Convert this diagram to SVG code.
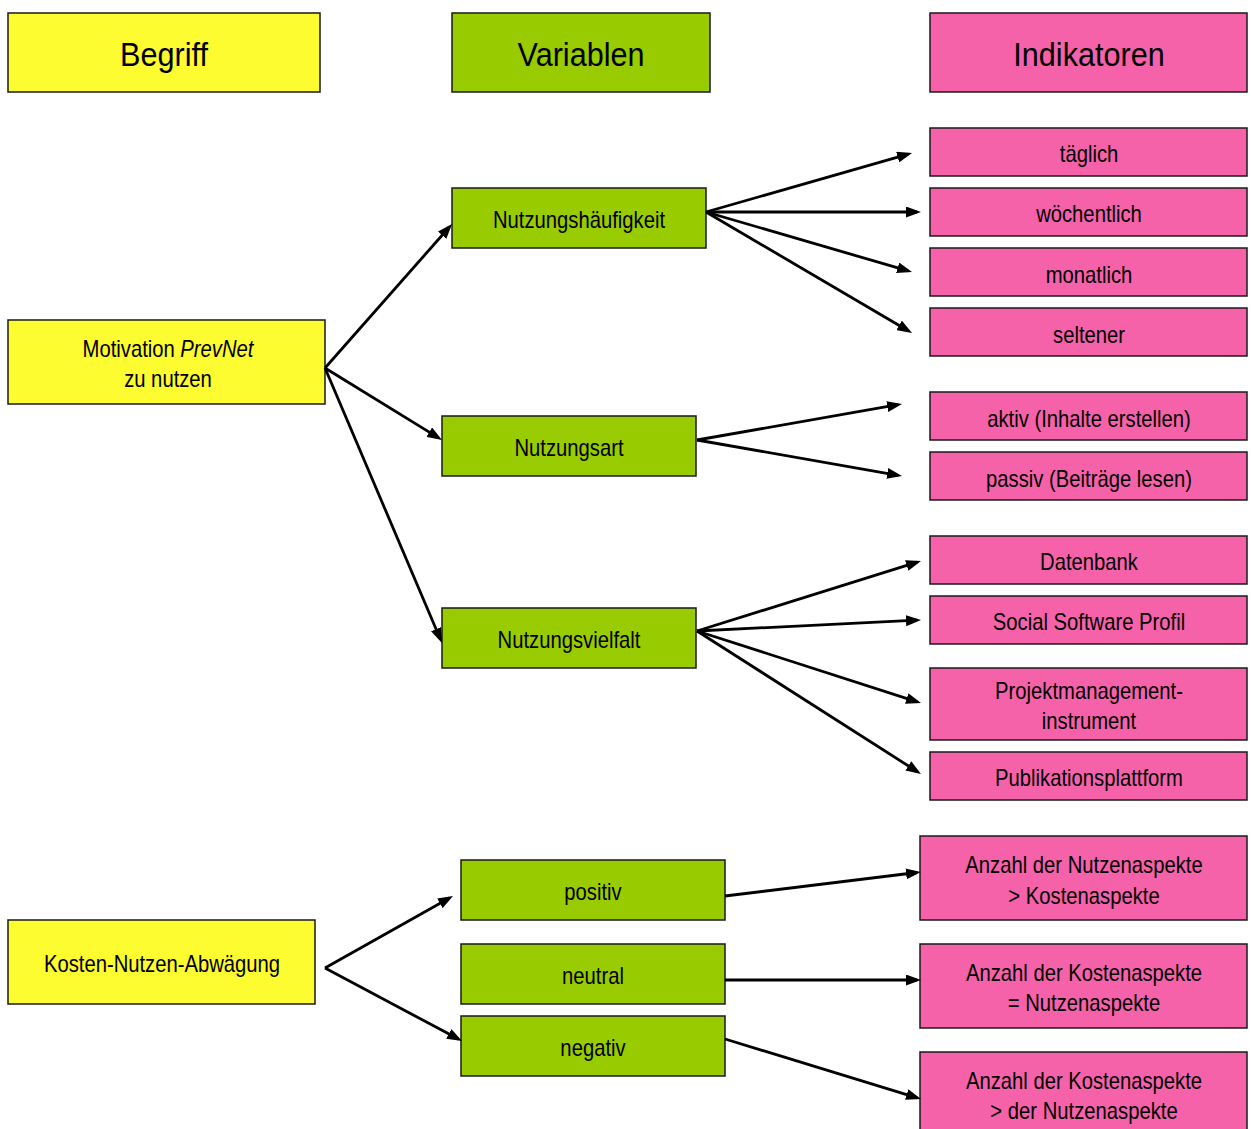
<svg xmlns="http://www.w3.org/2000/svg" width="1251" height="1129" viewBox="0 0 1251 1129">
<style>
  .y { fill: #FCFC30; stroke: #1a1a1a; stroke-width: 1.5; }
  .g { fill: #99CC00; stroke: #1a1a1a; stroke-width: 1.5; }
  .p { fill: #F562AA; stroke: #1a1a1a; stroke-width: 1.5; }
  text { font-family: "Liberation Sans", Arial, sans-serif; font-size: 23px; fill: #000; text-anchor: middle; }
  text.h { font-size: 34px; }
  .c path { fill: none; stroke: #000; stroke-width: 2.8; marker-end: url(#ah); }
</style>
<defs>
  <marker id="ah" markerUnits="userSpaceOnUse" markerWidth="15" markerHeight="11" viewBox="0 0 15 11" refX="11" refY="5.5" orient="auto">
    <path d="M0,0 L15,5.5 L0,11 z" fill="#000"/>
  </marker>
</defs>
<rect width="1251" height="1129" fill="#fff"/>

<g id="hdr-begriff"><rect class="y" x="8" y="13" width="312" height="79"/><text class="h" transform="translate(164,66) scale(0.9,1)">Begriff</text></g>
<g id="hdr-variablen"><rect class="g" x="452" y="13" width="258" height="79"/><text class="h" transform="translate(581,66) scale(0.9,1)">Variablen</text></g>
<g id="hdr-indikatoren"><rect class="p" x="930" y="13" width="317" height="79"/><text class="h" transform="translate(1089,66) scale(0.9,1)">Indikatoren</text></g>

<g id="motivation"><rect class="y" x="8" y="320" width="317" height="84"/>
  <text transform="translate(168,357) scale(0.88,1)">Motivation <tspan font-style="italic">PrevNet</tspan></text>
  <text transform="translate(168,387) scale(0.88,1)">zu nutzen</text></g>
<g id="kosten-nutzen"><rect class="y" x="8" y="920" width="307" height="84"/><text transform="translate(162,972) scale(0.88,1)">Kosten-Nutzen-Abwägung</text></g>

<g id="nutzungshaeufigkeit"><rect class="g" x="452" y="188" width="254" height="60"/><text transform="translate(579,228) scale(0.88,1)">Nutzungshäufigkeit</text></g>
<g id="nutzungsart"><rect class="g" x="442" y="416" width="254" height="60"/><text transform="translate(569,456) scale(0.88,1)">Nutzungsart</text></g>
<g id="nutzungsvielfalt"><rect class="g" x="442" y="608" width="254" height="60"/><text transform="translate(569,648) scale(0.88,1)">Nutzungsvielfalt</text></g>
<g id="positiv"><rect class="g" x="461" y="860" width="264" height="60"/><text transform="translate(593,900) scale(0.88,1)">positiv</text></g>
<g id="neutral"><rect class="g" x="461" y="944" width="264" height="60"/><text transform="translate(593,984) scale(0.88,1)">neutral</text></g>
<g id="negativ"><rect class="g" x="461" y="1016" width="264" height="60"/><text transform="translate(593,1056) scale(0.88,1)">negativ</text></g>

<g id="taeglich"><rect class="p" x="930" y="128" width="317" height="48"/><text transform="translate(1089,162) scale(0.88,1)">täglich</text></g>
<g id="woechentlich"><rect class="p" x="930" y="188" width="317" height="48"/><text transform="translate(1089,222) scale(0.88,1)">wöchentlich</text></g>
<g id="monatlich"><rect class="p" x="930" y="248" width="317" height="48"/><text transform="translate(1089,283) scale(0.88,1)">monatlich</text></g>
<g id="seltener"><rect class="p" x="930" y="308" width="317" height="48"/><text transform="translate(1089,343) scale(0.88,1)">seltener</text></g>
<g id="aktiv"><rect class="p" x="930" y="392" width="317" height="48"/><text transform="translate(1089,427) scale(0.88,1)">aktiv (Inhalte erstellen)</text></g>
<g id="passiv"><rect class="p" x="930" y="452" width="317" height="48"/><text transform="translate(1089,487) scale(0.88,1)">passiv (Beiträge lesen)</text></g>
<g id="datenbank"><rect class="p" x="930" y="536" width="317" height="48"/><text transform="translate(1089,570) scale(0.88,1)">Datenbank</text></g>
<g id="social-software"><rect class="p" x="930" y="596" width="317" height="48"/><text transform="translate(1089,630) scale(0.88,1)">Social Software Profil</text></g>
<g id="projektmanagement"><rect class="p" x="930" y="668" width="317" height="72"/>
  <text transform="translate(1089,699) scale(0.88,1)">Projektmanagement-</text>
  <text transform="translate(1089,729) scale(0.88,1)">instrument</text></g>
<g id="publikation"><rect class="p" x="930" y="752" width="317" height="48"/><text transform="translate(1089,786) scale(0.88,1)">Publikationsplattform</text></g>
<g id="anzahl-pos"><rect class="p" x="920" y="836" width="327" height="84"/>
  <text transform="translate(1084,873) scale(0.88,1)">Anzahl der Nutzenaspekte</text>
  <text transform="translate(1084,904) scale(0.88,1)">&gt; Kostenaspekte</text></g>
<g id="anzahl-neu"><rect class="p" x="920" y="944" width="327" height="84"/>
  <text transform="translate(1084,981) scale(0.88,1)">Anzahl der Kostenaspekte</text>
  <text transform="translate(1084,1011) scale(0.88,1)">= Nutzenaspekte</text></g>
<g id="anzahl-neg"><rect class="p" x="920" y="1052" width="327" height="84"/>
  <text transform="translate(1084,1089) scale(0.88,1)">Anzahl der Kostenaspekte</text>
  <text transform="translate(1084,1119) scale(0.88,1)">&gt; der Nutzenaspekte</text></g>

<g id="connectors" class="c">
  <path d="M325,368 L449.4,227"/>
  <path d="M325,368 L438.6,437.9"/>
  <path d="M325,368 L440.4,639.3"/>
  <path d="M706,212 L908.2,154.1"/>
  <path d="M706,212 L917,212"/>
  <path d="M706,212 L908.2,270.9"/>
  <path d="M706,212 L908.6,331"/>
  <path d="M697,440 L898.1,404.7"/>
  <path d="M697,440 L898.1,475.3"/>
  <path d="M697,631 L917.2,562.2"/>
  <path d="M697,631 L917,620.2"/>
  <path d="M697,631 L917.2,701.8"/>
  <path d="M697,631 L917.6,771.8"/>
  <path d="M325,968 L449.5,898"/>
  <path d="M325,968 L458.5,1039.1"/>
  <path d="M725,896 L917,872.5"/>
  <path d="M725,980 L917,980"/>
  <path d="M725,1039 L917.2,1097.8"/>
</g>
</svg>
